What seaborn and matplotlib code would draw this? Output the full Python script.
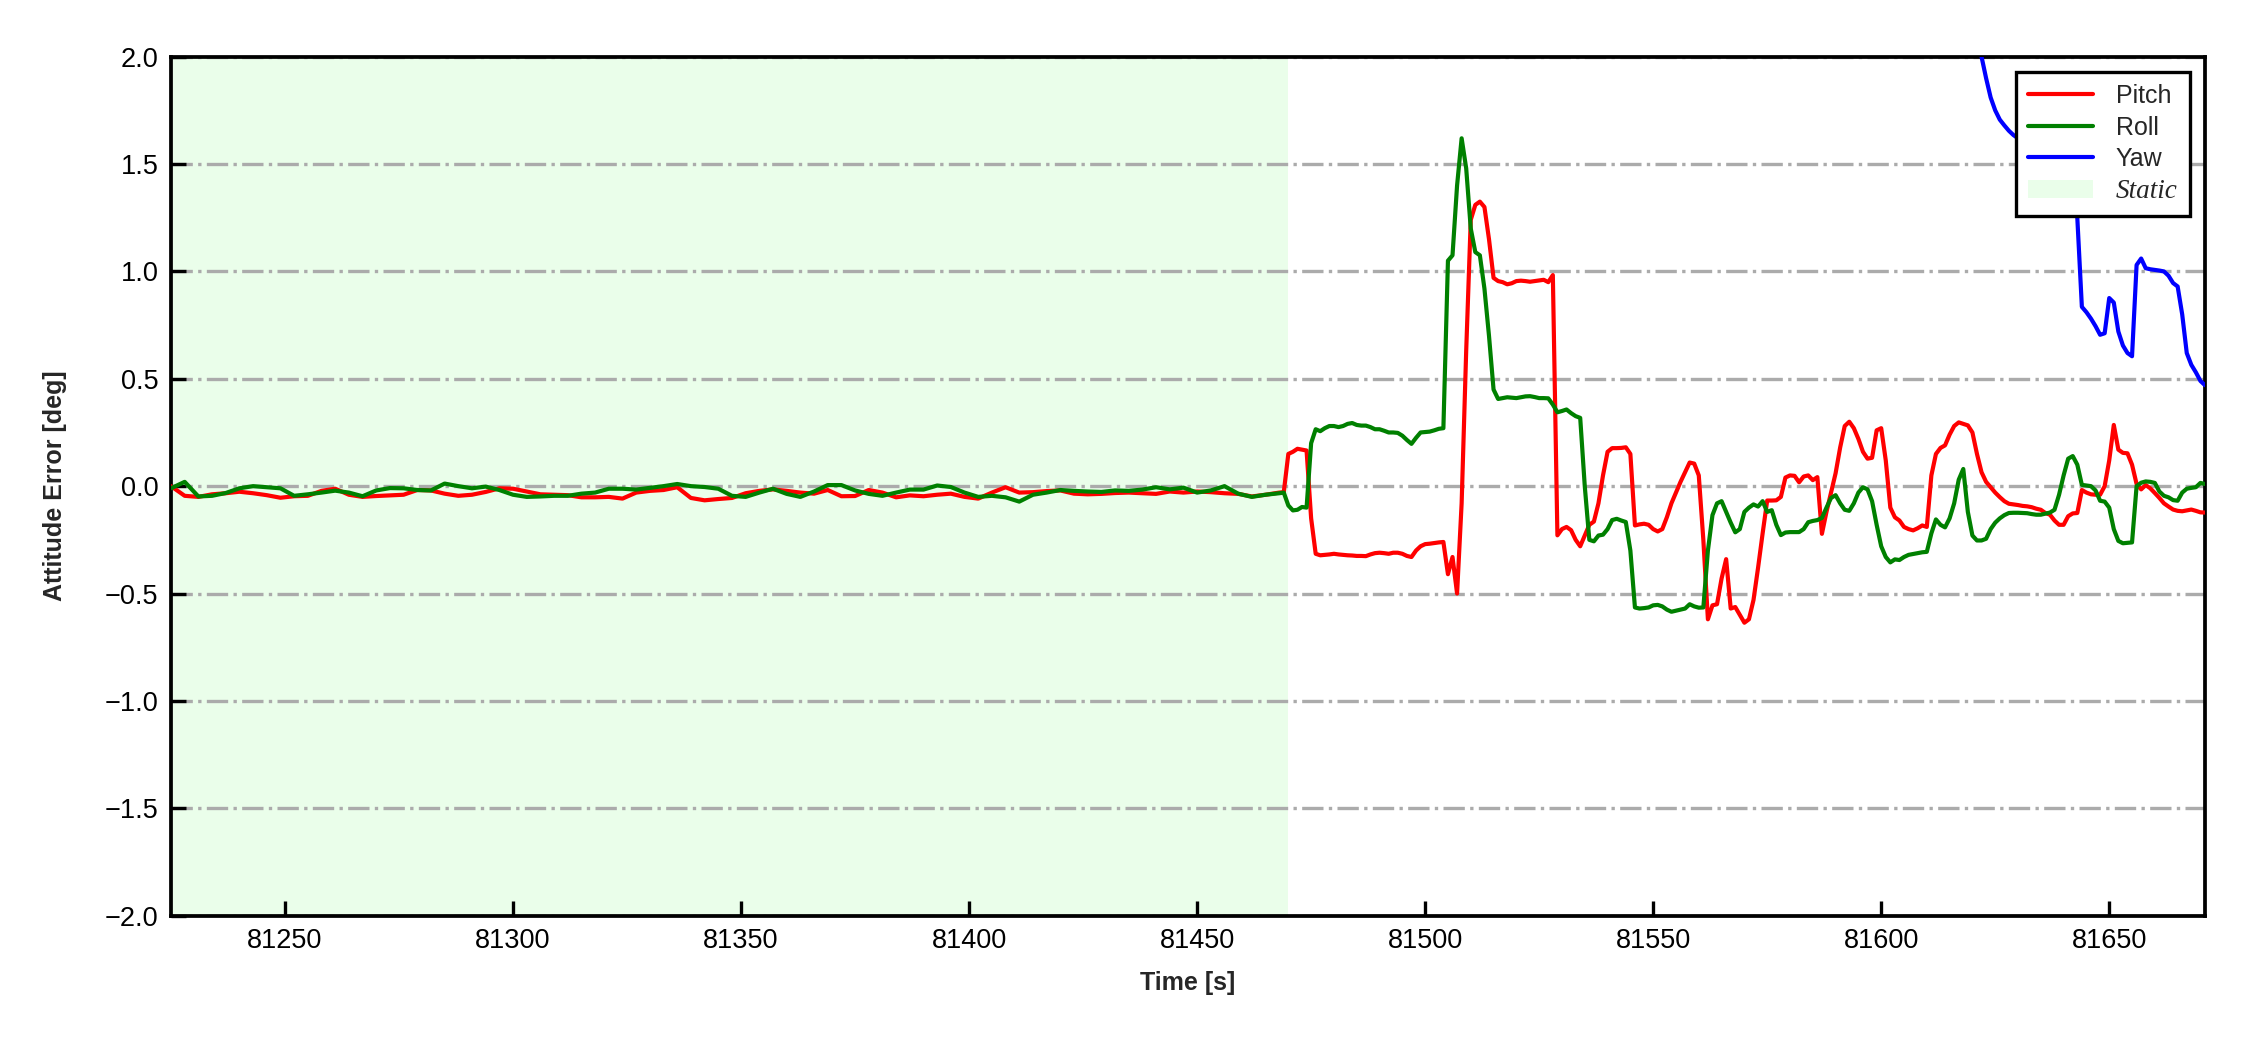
import numpy as np
import pandas as pd
import matplotlib
matplotlib.use("Agg")
import matplotlib.pyplot as plt
from matplotlib.ticker import MultipleLocator
import seaborn as sns

# time bases: static part read every 3 s, dynamic part every 1 s, yaw only where visible
t_static = np.arange(81225, 81469, 3)
t_dyn = np.arange(81469, 81672)
t_yaw = np.arange(81621, 81672)
static_start, static_end = 81225, 81470

pitch_static = [
    0.0, -0.045, -0.05, -0.038, -0.033, -0.026, -0.033, -0.042, -0.054, -0.047,
    -0.045, -0.022, -0.012, -0.04, -0.05, -0.046, -0.043, -0.04, -0.018, -0.02,
    -0.035, -0.045, -0.04, -0.027, -0.01, -0.012, -0.025, -0.038, -0.04, -0.042,
    -0.052, -0.052, -0.05, -0.058, -0.03, -0.022, -0.018, -0.005, -0.055, -0.066,
    -0.06, -0.055, -0.033, -0.022, -0.015, -0.022, -0.03, -0.035, -0.018, -0.047,
    -0.046, -0.018, -0.03, -0.052, -0.043, -0.047, -0.04, -0.035, -0.05, -0.058,
    -0.03, -0.005, -0.03, -0.028, -0.023, -0.02, -0.035, -0.038, -0.036, -0.032,
    -0.03, -0.033, -0.036, -0.025, -0.03, -0.025, -0.028, -0.033, -0.036, -0.048,
    -0.04, -0.03,
]
roll_static = [
    -0.01, 0.02, -0.048, -0.045, -0.032, -0.01, 0.0, -0.005, -0.01, -0.045,
    -0.038, -0.03, -0.021, -0.03, -0.047, -0.02, -0.009, -0.01, -0.018, -0.02,
    0.012, 0.0, -0.01, -0.002, -0.018, -0.04, -0.05, -0.048, -0.045, -0.045,
    -0.035, -0.03, -0.012, -0.012, -0.016, -0.008, 0.0, 0.01, 0.0, -0.004,
    -0.012, -0.045, -0.05, -0.03, -0.012, -0.036, -0.05, -0.025, 0.005, 0.005,
    -0.02, -0.036, -0.045, -0.03, -0.016, -0.016, 0.003, -0.004, -0.03, -0.05,
    -0.045, -0.052, -0.072, -0.04, -0.03, -0.018, -0.022, -0.025, -0.027, -0.02,
    -0.022, -0.016, -0.005, -0.015, -0.007, -0.03, -0.02, 0.0, -0.035, -0.05,
    -0.04, -0.033,
]
pitch_dyn = [
    -0.028, 0.15, 0.16, 0.174, 0.17, 0.166, -0.15, -0.315, -0.322, -0.32,
    -0.318, -0.315, -0.318, -0.32, -0.322, -0.323, -0.325, -0.325, -0.326, -0.318,
    -0.312, -0.31, -0.312, -0.315, -0.31, -0.31, -0.315, -0.325, -0.33, -0.3,
    -0.28, -0.27, -0.268, -0.265, -0.262, -0.26, -0.41, -0.33, -0.5, -0.08,
    0.63, 1.24, 1.31, 1.325, 1.3, 1.15, 0.97, 0.955, 0.95, 0.94,
    0.945, 0.955, 0.957, 0.955, 0.952, 0.955, 0.958, 0.961, 0.95, 0.983,
    -0.229, -0.2, -0.19, -0.205, -0.25, -0.28, -0.23, -0.18, -0.165, -0.08,
    0.05, 0.16, 0.177, 0.177, 0.178, 0.181, 0.15, -0.183, -0.178, -0.175,
    -0.18, -0.2, -0.211, -0.2, -0.145, -0.08, -0.03, 0.02, 0.065, 0.11,
    0.105, 0.05, -0.25, -0.62, -0.555, -0.55, -0.43, -0.34, -0.57, -0.563,
    -0.6, -0.636, -0.62, -0.53, -0.38, -0.22, -0.067, -0.067, -0.066, -0.05,
    0.04, 0.05, 0.048, 0.018, 0.045, 0.05, 0.028, 0.042, -0.222, -0.12,
    -0.03, 0.06, 0.18, 0.28, 0.3, 0.27, 0.22, 0.16, 0.128, 0.132,
    0.26, 0.27, 0.12, -0.1, -0.145, -0.16, -0.19, -0.2, -0.206, -0.196,
    -0.183, -0.19, 0.05, 0.15, 0.178, 0.19, 0.24, 0.28, 0.297, 0.29,
    0.283, 0.25, 0.15, 0.065, 0.02, -0.005, -0.03, -0.051, -0.07, -0.082,
    -0.085, -0.088, -0.092, -0.094, -0.098, -0.105, -0.11, -0.125, -0.133, -0.16,
    -0.18, -0.18, -0.14, -0.127, -0.125, -0.018, -0.03, -0.038, -0.04, -0.04,
    0.0, 0.12, 0.285, 0.17, 0.155, 0.153, 0.1, 0.01, -0.015, 0.005,
    -0.01, -0.032, -0.055, -0.08, -0.095, -0.109, -0.115, -0.117, -0.113, -0.109,
    -0.115, -0.122, -0.123,
]
roll_dyn = [
    -0.03, -0.09, -0.113, -0.11, -0.097, -0.1, 0.2, 0.265, 0.256, 0.27,
    0.28, 0.28, 0.275, 0.28, 0.29, 0.294, 0.285, 0.282, 0.282, 0.275,
    0.265, 0.265, 0.258, 0.25, 0.25, 0.248, 0.235, 0.215, 0.197, 0.225,
    0.25, 0.252, 0.254, 0.26, 0.267, 0.27, 1.05, 1.075, 1.4, 1.62,
    1.48, 1.2, 1.09, 1.075, 0.92, 0.7, 0.45, 0.406, 0.41, 0.414,
    0.412, 0.41, 0.414, 0.418, 0.419, 0.415, 0.41, 0.41, 0.409, 0.38,
    0.344, 0.35, 0.357, 0.34, 0.326, 0.318, 0.0, -0.25, -0.257, -0.23,
    -0.226, -0.2, -0.158, -0.152, -0.16, -0.167, -0.3, -0.565, -0.57, -0.568,
    -0.565, -0.555, -0.553, -0.56, -0.575, -0.585, -0.58, -0.575, -0.57, -0.55,
    -0.56, -0.566, -0.565, -0.3, -0.135, -0.08, -0.07, -0.12, -0.17, -0.215,
    -0.2, -0.12, -0.1, -0.085, -0.095, -0.07, -0.12, -0.112, -0.18, -0.228,
    -0.216, -0.214, -0.214, -0.214, -0.2, -0.168, -0.162, -0.158, -0.148, -0.1,
    -0.055, -0.042, -0.08, -0.11, -0.115, -0.08, -0.03, -0.005, -0.015, -0.07,
    -0.18, -0.28, -0.33, -0.355, -0.341, -0.344, -0.33, -0.32, -0.316, -0.312,
    -0.308, -0.306, -0.22, -0.155, -0.18, -0.192, -0.15, -0.08, 0.03, 0.08,
    -0.12, -0.23, -0.253, -0.253, -0.245, -0.2, -0.17, -0.15, -0.135, -0.125,
    -0.124, -0.124, -0.125, -0.126, -0.13, -0.133, -0.133, -0.128, -0.123, -0.11,
    -0.04, 0.05, 0.128, 0.14, 0.1, 0.006, 0.003, 0.0, -0.02, -0.068,
    -0.072, -0.1, -0.2, -0.255, -0.266, -0.264, -0.262, 0.0, 0.016, 0.022,
    0.02, 0.015, -0.025, -0.045, -0.052, -0.065, -0.068, -0.03, -0.012, -0.008,
    -0.005, 0.015, 0.01,
]
yaw_tail = [
    2.1, 2.0, 1.9, 1.81, 1.75, 1.707, 1.68, 1.655, 1.635, 1.62,
    1.6, 1.58, 1.56, 1.54, 1.52, 1.5, 1.48, 1.45, 1.42, 1.38,
    1.34, 1.3, 1.25, 0.835, 0.81, 0.78, 0.745, 0.705, 0.712, 0.876,
    0.855, 0.72, 0.655, 0.62, 0.605, 1.03, 1.06, 1.015, 1.01, 1.007,
    1.004, 1.0, 0.98, 0.946, 0.93, 0.8, 0.62, 0.565, 0.53, 0.49,
    0.47,
]

series_names = ["Pitch", "Roll", "Yaw"]
series_colors = {"Pitch": "red", "Roll": "green", "Yaw": "blue"}

t_att = np.concatenate([t_static, t_dyn])
df = pd.concat(
    [
        pd.DataFrame({"time": t_att, "value": pitch_static + pitch_dyn, "axis": "Pitch"}),
        pd.DataFrame({"time": t_att, "value": roll_static + roll_dyn, "axis": "Roll"}),
        pd.DataFrame({"time": t_yaw, "value": yaw_tail, "axis": "Yaw"}),
    ],
    ignore_index=True,
)

sns.set_theme(style="ticks")
plt.rcParams["font.family"] = ["Liberation Sans", "DejaVu Sans"]
plt.rcParams["axes.unicode_minus"] = True

fig, ax = plt.subplots(figsize=(7.5, 3.5), dpi=300)
fig.subplots_adjust(left=0.076, right=0.980, bottom=0.128, top=0.946)

ax.axvspan(static_start, static_end, color="palegreen", alpha=0.2, lw=0,
           label="Static", zorder=0)
ax.yaxis.grid(True, linestyle="-.", linewidth=0.8, color="#ababab", zorder=1)
ax.set_axisbelow(True)

sns.lineplot(data=df, x="time", y="value", hue="axis", hue_order=series_names,
             palette=series_colors, linewidth=1, estimator=None, sort=False,
             ax=ax, zorder=3)

ax.set_xlim(81225, 81671)
ax.set_ylim(-2, 2)
ax.xaxis.set_major_locator(MultipleLocator(50))
ax.yaxis.set_major_locator(MultipleLocator(0.5))
ax.ticklabel_format(axis="x", useOffset=False, style="plain")
ax.tick_params(direction="in", length=3.5, width=0.8, labelsize=6.5, pad=3,
               colors="black")
for sp in ax.spines.values():
    sp.set_linewidth(0.9)
    sp.set_color("black")

ax.set_xlabel("Time [s]", fontsize=6, fontweight="bold", labelpad=4)
ax.set_ylabel("Attitude Error [deg]", fontsize=6, fontweight="bold", labelpad=9)

handles, labels = ax.get_legend_handles_labels()
lookup = dict(zip(labels, handles))
order = series_names + ["Static"]
leg = ax.legend([lookup[k] for k in order], order, loc="upper right",
                fontsize=6, frameon=True, fancybox=False, framealpha=1,
                edgecolor="black", borderaxespad=0.6, handlelength=2.6,
                handletextpad=0.9, labelspacing=0.3, borderpad=0.5)
leg.get_frame().set_linewidth(0.8)
static_txt = leg.get_texts()[3]
static_txt.set_fontfamily(["Liberation Serif", "DejaVu Serif"])
static_txt.set_fontstyle("italic")
static_txt.set_fontsize(6.5)

fig.savefig("out.png", dpi=300)
